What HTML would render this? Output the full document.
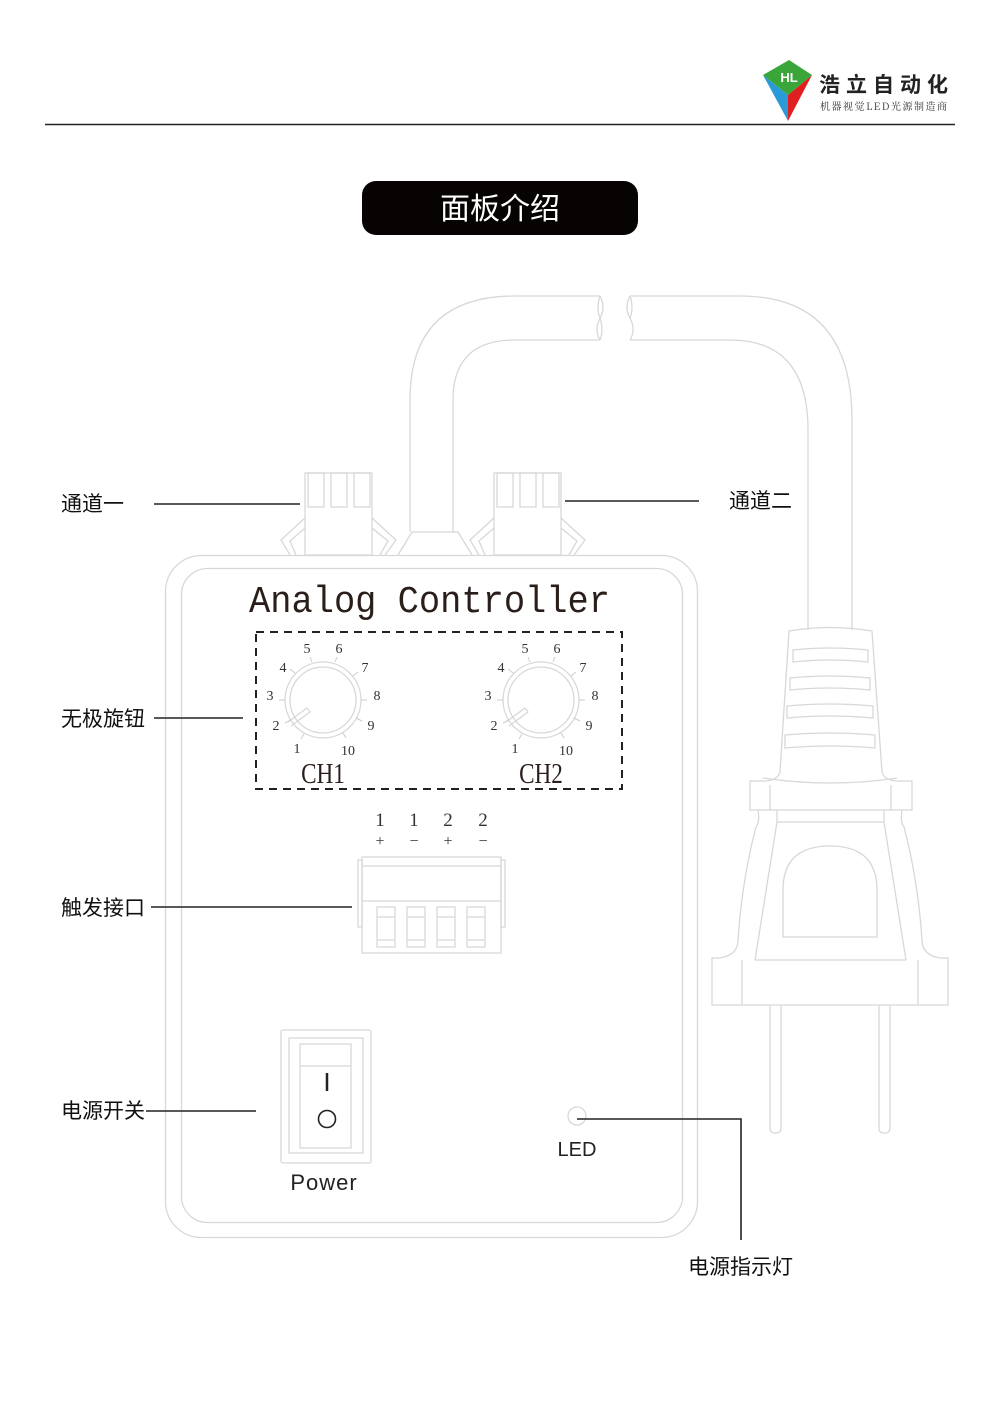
<!DOCTYPE html>
<html><head><meta charset="utf-8"><style>
html,body{margin:0;padding:0;background:#fff}
svg{display:block}
.cj{font-family:"Liberation Sans","Noto Sans CJK SC",sans-serif;font-size:21px;fill:#111}
.g{fill:none;stroke:#d8d8d8;stroke-width:1.3}
.n{font-family:"Liberation Serif",serif;font-size:14px;fill:#333;text-anchor:middle}
</style></head><body>
<svg width="1000" height="1415" viewBox="0 0 1000 1415" xmlns="http://www.w3.org/2000/svg">
<!-- logo -->
<polygon points="763,75 789,60 812,75" fill="#3aa63a"/>
<polygon points="763,75 788,121 788,95" fill="#2a9ad8"/>
<polygon points="812,75 788,121 788,95" fill="#e02020"/>
<polygon points="763,75 812,75 788,95" fill="#3aa63a"/>
<text x="789" y="82" font-family="Liberation Sans,sans-serif" font-size="13" font-weight="bold" fill="#fff" text-anchor="middle">HL</text>
<text x="819" y="92" font-family="Liberation Sans,'Noto Sans CJK SC',sans-serif" font-size="21" font-weight="bold" fill="#222" textLength="129" lengthAdjust="spacing">浩立自动化</text>
<text x="820" y="110" font-family="'Noto Serif CJK SC',serif" font-size="10" fill="#333" textLength="127" lengthAdjust="spacing">机器视觉LED光源制造商</text>
<line x1="45" y1="124.5" x2="955" y2="124.5" stroke="#222" stroke-width="1.5"/>
<!-- title -->
<rect x="362" y="181" width="276" height="54" rx="14" fill="#070302"/>
<text x="500" y="219" font-family="Liberation Sans,'Noto Sans CJK SC',sans-serif" font-size="30" fill="#fff" text-anchor="middle">面板介绍</text>
<!-- cable -->
<path class="g" d="M410,532 V400 Q410,296 515,296 H600 M453,532 V400 Q453,340 515,340 H600"/>
<path class="g" d="M600,296 Q606,308 600,318 Q594,330 600,340 M600,296 Q596,308 600,318 Q604,330 600,340"/>
<path class="g" d="M630,296 Q624,308 630,318 Q636,330 630,340 M630,296 Q634,308 630,318"/>
<path class="g" d="M630,296 H740 Q852,296 852,420 V630 M630,340 H730 Q808,340 808,430 V630"/>
<path class="g" d="M398,555 L412,532 H458 L472,555"/>
<!-- connectors -->
<g class="g">
<rect x="305" y="473" width="67" height="82"/>
<rect x="308" y="473" width="16" height="34"/><rect x="331" y="473" width="16" height="34"/><rect x="354" y="473" width="16" height="34"/>
<path d="M305,518 L281,540 L290,555 M305,528 L290,541 L296,555 M372,518 L396,540 L385,555 M372,528 L388,541 L380,555"/>
<rect x="494" y="473" width="67" height="82"/>
<rect x="497" y="473" width="16" height="34"/><rect x="520" y="473" width="16" height="34"/><rect x="543" y="473" width="16" height="34"/>
<path d="M494,518 L470,540 L479,555 M494,528 L479,541 L485,555 M561,518 L585,540 L574,555 M561,528 L577,541 L569,555"/>
</g>
<!-- box -->
<rect class="g" x="165.5" y="555.5" width="532" height="682" rx="36"/>
<rect class="g" x="181.5" y="568.5" width="501" height="654" rx="26"/>
<text x="249" y="612" font-family="'Liberation Mono',monospace" font-size="38" fill="#2a1e1a" textLength="361" lengthAdjust="spacingAndGlyphs">Analog Controller</text>
<rect x="256" y="632" width="366" height="157" fill="none" stroke="#222" stroke-width="2" stroke-dasharray="8,6"/>
<!-- knobs -->
<g id="k1">
<circle class="g" cx="323" cy="700" r="38"/><circle class="g" cx="323" cy="700" r="33"/>
<path class="g" d="M288,722 L307,708 L310,712 L291,726"/>
<g stroke="#ccc" stroke-width="1">
<line x1="312" y1="662" x2="310" y2="657"/><line x1="335" y1="662" x2="337" y2="657"/>
<line x1="295" y1="673" x2="290" y2="669"/><line x1="353" y1="676" x2="358" y2="672"/>
<line x1="285" y1="700" x2="279" y2="700"/><line x1="361" y1="700" x2="367" y2="700"/>
<line x1="291" y1="720" x2="285" y2="723"/><line x1="356" y1="718" x2="362" y2="721"/>
<line x1="304" y1="734" x2="301" y2="739"/><line x1="343" y1="733" x2="346" y2="738"/>
</g>
<text class="n" x="307" y="653">5</text><text class="n" x="339" y="653">6</text>
<text class="n" x="283" y="672">4</text><text class="n" x="365" y="672">7</text>
<text class="n" x="270" y="700">3</text><text class="n" x="377" y="700">8</text>
<text class="n" x="276" y="730">2</text><text class="n" x="371" y="730">9</text>
<text class="n" x="297" y="753">1</text><text class="n" x="348" y="755">10</text>
</g>
<use href="#k1" x="218"/>
<text x="323" y="783" font-family="'Liberation Serif',serif" font-size="29" fill="#2a1e1a" text-anchor="middle" transform="translate(323 0) scale(0.8 1) translate(-323 0)">CH1</text>
<text x="541" y="783" font-family="'Liberation Serif',serif" font-size="29" fill="#2a1e1a" text-anchor="middle" transform="translate(541 0) scale(0.8 1) translate(-541 0)">CH2</text>
<!-- terminal -->
<g font-family="'Liberation Serif',serif" font-size="19" fill="#333" text-anchor="middle">
<text x="380" y="826">1</text><text x="414" y="826">1</text><text x="448" y="826">2</text><text x="483" y="826">2</text>
<text x="380" y="846" font-size="16">+</text><text x="414" y="846" font-size="16">−</text><text x="448" y="846" font-size="16">+</text><text x="483" y="846" font-size="16">−</text>
</g>
<g class="g">
<rect x="362" y="857" width="139" height="96"/><line x1="362" y1="866" x2="501" y2="866"/><line x1="362" y1="901" x2="501" y2="901"/>
<rect x="358" y="860" width="4" height="67"/><rect x="501" y="860" width="4" height="67"/>
<rect x="377" y="907" width="18" height="40"/><rect x="407" y="907" width="18" height="40"/><rect x="437" y="907" width="18" height="40"/><rect x="467" y="907" width="18" height="40"/>
<path d="M377,917H395M407,917H425M437,917H455M467,917H485M377,940H395M407,940H425M437,940H455M467,940H485"/>
</g>
<!-- switch -->
<g class="g">
<rect x="281" y="1030" width="90" height="133" rx="2"/>
<rect x="289" y="1038" width="74" height="115"/>
<rect x="300" y="1044" width="51" height="104"/>
<line x1="300" y1="1066" x2="351" y2="1066"/>
</g>
<line x1="327" y1="1073" x2="327" y2="1091" stroke="#222" stroke-width="2.5"/>
<circle cx="327" cy="1119" r="8.5" fill="none" stroke="#222" stroke-width="1.6"/>
<text x="324" y="1190" font-family="'Liberation Sans',sans-serif" font-size="22" fill="#222" text-anchor="middle" letter-spacing="1">Power</text>
<!-- LED -->
<circle class="g" cx="577" cy="1116" r="9"/>
<text x="577" y="1156" font-family="'Liberation Sans',sans-serif" font-size="20" fill="#222" text-anchor="middle">LED</text>
<polyline points="577,1119 741,1119 741,1240" fill="none" stroke="#222" stroke-width="1.6"/>
<!-- plug -->
<g class="g">
<path d="M789,631 Q830,624 872,631 L882,772 Q884,780 896,781 H912 V810 H750 V781 H766 Q778,780 780,772 Z"/>
<path d="M793,650 Q830,646 868,650 V662 Q830,658 793,662Z M790,678 Q830,674 870,678 V690 Q830,686 790,690Z M787,706 Q830,702 873,706 V718 Q830,714 787,718Z M785,735 Q830,731 875,735 V748 Q830,744 785,748Z"/>
<path d="M763,778 Q830,788 897,778"/>
<line x1="770" y1="785" x2="770" y2="810"/><line x1="891" y1="785" x2="891" y2="810"/>
<path d="M758,810 Q760,822 756,827 Q742,880 738,940 Q738,955 720,958 H712 V1005 H948 V958 H940 Q922,955 922,940 Q918,880 904,827 Q900,822 902,810"/>
<line x1="777" y1="822" x2="884" y2="822"/>
<path d="M777,810 V822 L755,960 M884,810 V822 L906,960 M755,960 H906"/>
<path d="M783,937 V890 Q783,846 830,846 Q877,846 877,890 V937 Z"/>
<line x1="742" y1="960" x2="742" y2="1005"/><line x1="918" y1="960" x2="918" y2="1005"/>
<path d="M770,1005 V1128 Q770,1133 775,1133 H776 Q781,1133 781,1128 V1005 M879,1005 V1128 Q879,1133 884,1133 H885 Q890,1133 890,1128 V1005"/>
</g>
<!-- labels & leader lines -->
<g stroke="#222" stroke-width="1.6">
<line x1="154" y1="504" x2="300" y2="504"/>
<line x1="565" y1="501" x2="699" y2="501"/>
<line x1="154" y1="718" x2="243" y2="718"/>
<line x1="151" y1="907" x2="352" y2="907"/>
<line x1="146" y1="1111" x2="256" y2="1111"/>
</g>
<text class="cj" x="61" y="511">通道一</text>
<text class="cj" x="729" y="508">通道二</text>
<text class="cj" x="61" y="726">无极旋钮</text>
<text class="cj" x="61" y="915">触发接口</text>
<text class="cj" x="61" y="1118">电源开关</text>
<text class="cj" x="688" y="1274">电源指示灯</text>
</svg>
</body></html>
